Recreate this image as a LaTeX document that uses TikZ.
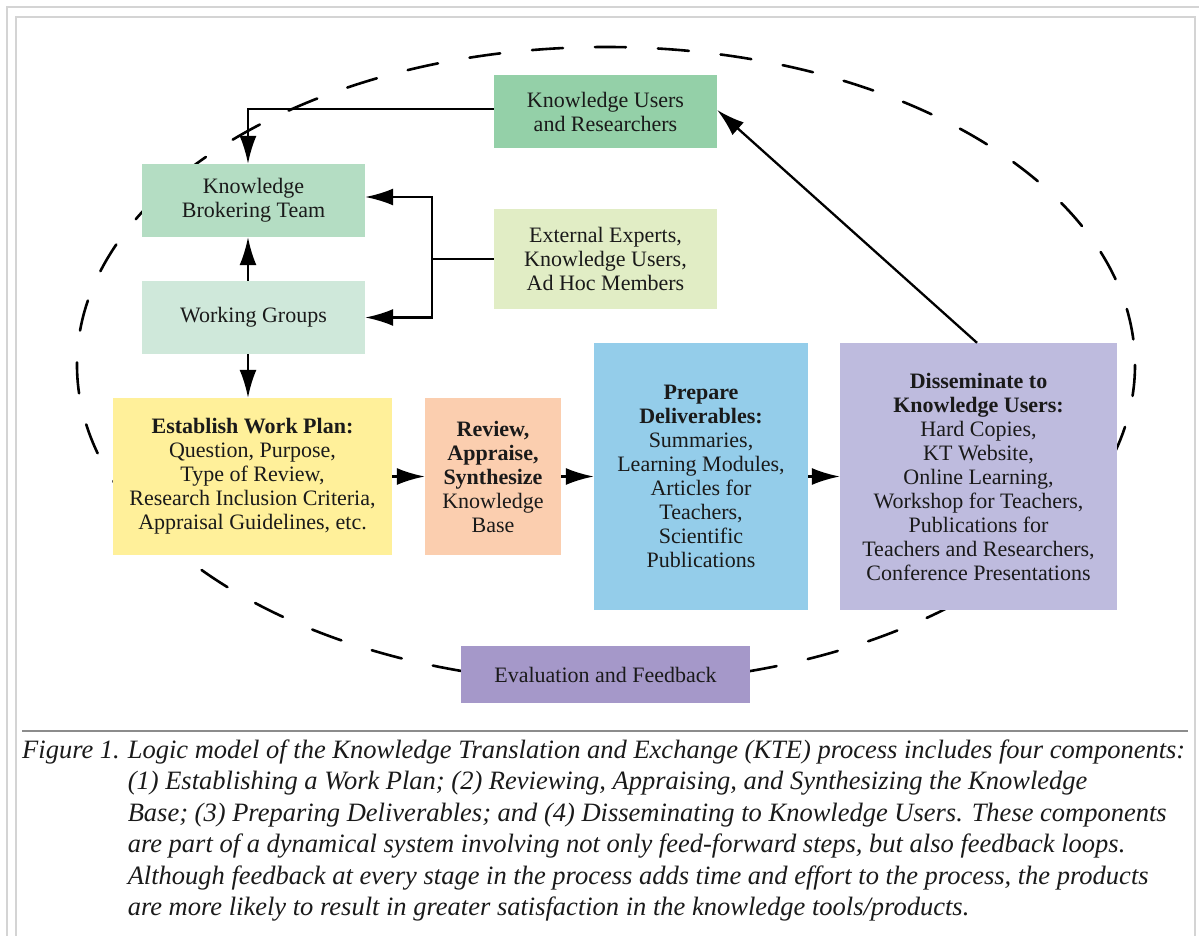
\documentclass[tikz,border=0pt]{standalone}
\usepackage{fontspec}
\setmainfont{Liberation Serif}
\usetikzlibrary{arrows.meta}
\definecolor{ckur}{HTML}{94D0A8}
\definecolor{ckbt}{HTML}{B4DDC3}
\definecolor{cext}{HTML}{E1EDC5}
\definecolor{cwg}{HTML}{CFE8DA}
\definecolor{cewp}{HTML}{FFF09A}
\definecolor{crev}{HTML}{FBCEAF}
\definecolor{cprep}{HTML}{94CDEA}
\definecolor{cdiss}{HTML}{BEBBDE}
\definecolor{ceval}{HTML}{A598C9}
\definecolor{frameg}{HTML}{D4D4D4}
\definecolor{sepg}{HTML}{8C8C8C}
\definecolor{txt}{HTML}{1A1A1A}
\tikzset{
  box/.style={inner sep=0pt, align=center, text=txt,
    font=\fontsize{22}{24}\selectfont},
  arr/.style={line width=2.3pt, -{Latex[length=28pt,width=17pt]}},
  plain/.style={line width=2.3pt},
  loop/.style={line width=2.6pt, line cap=round, dash pattern=on 31pt off 32pt},
}
\begin{document}
\begin{tikzpicture}[x=1pt,y=-1pt]
\useasboundingbox (0,0) rectangle (1199,936);
% frame
\draw[frameg, line width=2.2pt] (7,960) -- (7,7) -- (1230,7);
\draw[frameg, line width=2.2pt] (16,960) -- (16,17) -- (1195,17) -- (1195,960);
% dashed loop
\draw[loop] (606,365) ellipse [x radius=529, y radius=318];
% boxes
\node[box, fill=ckur, minimum width=223pt, minimum height=73pt] (kur) at (605.5,111.5) {Knowledge Users\\and Researchers};
\node[box, fill=ckbt, minimum width=223pt, minimum height=73pt] (kbt) at (253.5,200.5) {Knowledge\\Brokering Team};
\node[box, fill=cext, minimum width=223pt, minimum height=100pt] (ext) at (605.5,259) {External Experts,\\Knowledge Users,\\Ad Hoc Members};
\node[box, fill=cwg, minimum width=223pt, minimum height=73pt] (wg) at (253.5,317.5) {Working Groups};
\node[box, fill=cewp, minimum width=279pt, minimum height=157pt] (ewp) at (252.5,476.5) {\textbf{Establish Work Plan:}\\Question, Purpose,\\Type of Review,\\Research Inclusion Criteria,\\Appraisal Guidelines, etc.};
\node[box, fill=crev, minimum width=136pt, minimum height=157pt] (rev) at (493,476.5) {\textbf{Review,}\\\textbf{Appraise,}\\\textbf{Synthesize}\\Knowledge\\Base};
\node[box, fill=cprep, minimum width=214pt, minimum height=267pt] (prep) at (701,476.5) {\textbf{Prepare}\\\textbf{Deliverables:}\\Summaries,\\Learning Modules,\\Articles for\\Teachers,\\Scientific\\Publications};
\node[box, fill=cdiss, minimum width=277pt, minimum height=267pt] (diss) at (978.5,476.5) {\textbf{Disseminate to}\\\textbf{Knowledge Users:}\\Hard Copies,\\KT Website,\\Online Learning,\\Workshop for Teachers,\\Publications for\\Teachers and Researchers,\\Conference Presentations};
\node[box, fill=ceval, minimum width=289pt, minimum height=57pt] (eval) at (605.5,674.5) {Evaluation and Feedback};
% connectors
\draw[arr] ([yshift=2.5pt]kur.west) -| ([xshift=-5.5pt]kbt.north);
\coordinate (jn) at (432,259);
\draw[plain] (ext.west) -- (jn);
\draw[arr] (jn) |- ([yshift=3.5pt]kbt.east);
\draw[arr] (jn) |- (wg.east);
\draw[arr] ([xshift=-5.5pt]wg.north) -- ([xshift=-5.5pt]kbt.south);
\draw[arr] ([xshift=-5.5pt]wg.south) -- ([xshift=-5.5pt]wg.south |- ewp.north);
\draw[arr] (ewp.east) -- (rev.west);
\draw[arr] (rev.east) -- (prep.west);
\draw[arr] (prep.east) -- (diss.west);
\draw[arr] ([xshift=-1.5pt]diss.north) -- ([yshift=1.5pt]kur.east);
% caption
\draw[sepg, line width=1.5pt] (22,731) -- (1188,731);
\node[anchor=base west, inner sep=0pt, text=txt, font=\fontsize{26.5}{31.5}\selectfont\itshape] (cap) at (22,758) {%
\begin{tabular}[t]{@{}l@{\hspace{0.3em}}l@{}}
Figure 1. & Logic model of the Knowledge Translation and Exchange (KTE) process includes four components:\\
 & (1) Establishing a Work Plan; (2) Reviewing, Appraising, and Synthesizing the Knowledge\\
 & Base; (3) Preparing Deliverables; and (4) Disseminating to Knowledge Users. These components\\
 & are part of a dynamical system involving not only feed-forward steps, but also feedback loops.\\
 & Although feedback at every stage in the process adds time and effort to the process, the products\\
 & are more likely to result in greater satisfaction in the knowledge tools/products.
\end{tabular}};
\end{tikzpicture}
\end{document}
